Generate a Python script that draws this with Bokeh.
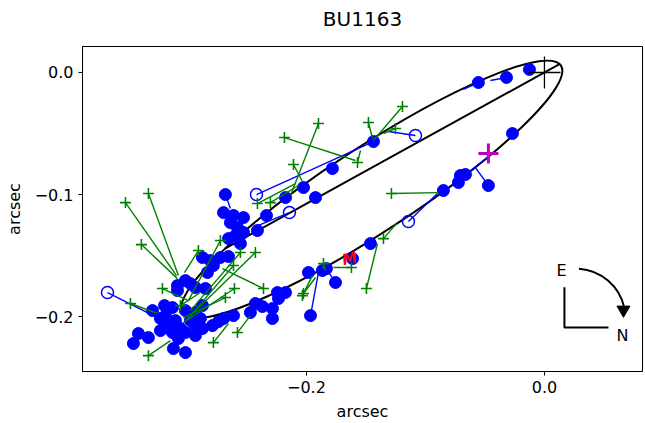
import numpy as np
from bokeh.plotting import figure
from bokeh.models import Range1d, FixedTicker, LinearAxis
from bokeh.embed import file_html
from bokeh.resources import INLINE
from bokeh.core.properties import value

FONT = "DejaVu Sans"

# ---- speckle measures: observed position and position predicted by the orbit ----
speckle_x = [-0.0126, -0.0319, -0.0555, -0.0269, -0.0706, -0.0664, -0.0723, -0.0471, -0.0849,
             -0.1437, -0.1782, -0.2025, -0.1924, -0.1462, -0.1983, -0.1866, -0.1832, -0.1756,
             -0.1966, -0.1613, -0.2176, -0.2336, -0.2681, -0.2697, -0.2613, -0.2529, -0.2639,
             -0.2580, -0.2597, -0.2529, -0.2412, -0.2555, -0.2655, -0.2874, -0.2807, -0.2723,
             -0.2655, -0.2782, -0.2832, -0.3017, -0.3084, -0.3084, -0.2975, -0.2933, -0.2849,
             -0.2874, -0.3126, -0.3193, -0.3294, -0.3185, -0.3101, -0.3227, -0.3412, -0.3328,
             -0.3454, -0.3118, -0.3017, -0.3126, -0.3017, -0.2933, -0.2874, -0.2790, -0.2697,
             -0.2613, -0.2739, -0.2471, -0.2429, -0.2286, -0.2286, -0.2244, -0.2176, -0.2235,
             -0.2975, -0.3059, -0.2933, -0.3160, -0.3017, -0.2933, -0.3076, -0.2891, -0.3227,
             -0.2370]
speckle_y = [0.0025, -0.0041, -0.0082, -0.0500, -0.0844, -0.0836, -0.0902, -0.0926, -0.0967,
             -0.0566, -0.0787, -0.0943, -0.1025, -0.1402, -0.1639, -0.1623, -0.1607, -0.1721,
             -0.1992, -0.1525, -0.1025, -0.1172, -0.1000, -0.1148, -0.1172, -0.1189, -0.1230,
             -0.1270, -0.1336, -0.1311, -0.1295, -0.1402, -0.1361, -0.1516, -0.1541, -0.1516,
             -0.1508, -0.1582, -0.1639, -0.1705, -0.1746, -0.1787, -0.1730, -0.1762, -0.1770,
             -0.1910, -0.1926, -0.1910, -0.1951, -0.1992, -0.2033, -0.2016, -0.2139, -0.2172,
             -0.2221, -0.2262, -0.2295, -0.2131, -0.2131, -0.2156, -0.2098, -0.2074, -0.2016,
             -0.1992, -0.2041, -0.1967, -0.1893, -0.1934, -0.2016, -0.1803, -0.1803, -0.1852,
             -0.2033, -0.2098, -0.2074, -0.2057, -0.1951, -0.1967, -0.2180, -0.2016, -0.2115,
             -0.1918]
speckle_xc = list(speckle_x)
speckle_yc = list(speckle_y)
# residual vectors that are long enough to show
for i, (xc, yc) in {1: (-0.0454, -0.0066), 2: (-0.0681, -0.0139), 5: (-0.0479, -0.0697),
                    7: (-0.0580, -0.0779), 17: (-0.1824, -0.1623), 18: (-0.1899, -0.1639),
                    22: (-0.2639, -0.1115)}.items():
    speckle_xc[i] = xc
    speckle_yc[i] = yc

# ---- rejected / low-weight speckle measures (open circles) ----
open_x = [-0.1143, -0.1084, -0.2420, -0.2143, -0.3672]
open_y = [-0.1221, -0.0516, -0.1000, -0.1148, -0.1803]
open_xc = [-0.0899, -0.1311, -0.1437, -0.2445, -0.3168]
open_yc = [-0.0992, -0.0484, -0.0566, -0.1270, -0.2049]

# ---- visual micrometer measures ----
vis_x = [-0.1286, -0.1193, -0.1479, -0.1252, -0.1899, -0.2185, -0.1571, -0.2109, -0.1496,
         -0.1353, -0.1622, -0.1857, -0.2025, -0.3521, -0.3328, -0.3387, -0.2908, -0.3210,
         -0.3479, -0.3328, -0.2361, -0.2605, -0.2681, -0.2580, -0.2782, -0.2034, -0.2723,
         -0.2555, -0.2429, -0.2613, -0.2412, -0.2303, -0.3059]
vis_y = [-0.0992, -0.0279, -0.0410, -0.0459, -0.0418, -0.0533, -0.0738, -0.0754, -0.1770,
         -0.1361, -0.1598, -0.1566, -0.1811, -0.1066, -0.0992, -0.1410, -0.1459, -0.1770,
         -0.1893, -0.2320, -0.1770, -0.1770, -0.1844, -0.2131, -0.2213, -0.1828, -0.1377,
         -0.1475, -0.1475, -0.1582, -0.1074, -0.1066, -0.1910]
vis_xc = [-0.0891, -0.1437, -0.1445, -0.1353, -0.2134, -0.1588, -0.1546, -0.2034, -0.1403,
          -0.1244, -0.1773, -0.1840, -0.1924, -0.3092, -0.3076, -0.3084, -0.3025, -0.2992,
          -0.3252, -0.3143, -0.2706, -0.3034, -0.3034, -0.2471, -0.2655, -0.1950, -0.2992,
          -0.2975, -0.3017, -0.2975, -0.2092, -0.2067, -0.2891]
vis_yc = [-0.0984, -0.0557, -0.0541, -0.0500, -0.1008, -0.0721, -0.0639, -0.0893, -0.1402,
          -0.1238, -0.1598, -0.1623, -0.1680, -0.1664, -0.1664, -0.1689, -0.1639, -0.1869,
          -0.1975, -0.2197, -0.1607, -0.2049, -0.2008, -0.1992, -0.2057, -0.1664, -0.1869,
          -0.1951, -0.2033, -0.1992, -0.0910, -0.0926, -0.1803]

# ---- apparent orbit ----
orbit_center = (-0.1451, -0.0958)
orbit_major = 0.380
orbit_minor = 0.0695
orbit_angle_deg = 33.2
node_x = [0.0134, -0.2685]
node_y = [0.0072, -0.1443]

periastron = (-0.0471, -0.0664)
flag_point = (-0.1639, -0.1525)

p = figure(width=645, height=423, output_backend="svg", toolbar_location=None,
           x_range=Range1d(-0.3882, 0.0824), y_range=Range1d(-0.245, 0.0213),
           min_border_left=82, min_border_right=3, min_border_top=46, min_border_bottom=52)
p.background_fill_color = "white"
p.border_fill_color = "white"
p.outline_line_color = "black"
p.outline_line_width = 1
p.xgrid.visible = False
p.ygrid.visible = False

x_axis = p.below[0]
y_axis = p.left[0]
x_axis.ticker = FixedTicker(ticks=[-0.2, 0.0])
y_axis.ticker = FixedTicker(ticks=[-0.2, -0.1, 0.0])
x_axis.major_label_overrides = {-0.2: "\u22120.2", 0: "0.0"}
y_axis.major_label_overrides = {-0.2: "\u22120.2", -0.1: "\u22120.1", 0: "0.0"}
for ax in (x_axis, y_axis):
    ax.axis_label = "arcsec"
    ax.axis_label_text_font = FONT
    ax.axis_label_text_font_size = "16px"
    ax.axis_label_text_font_style = "normal"
    ax.axis_label_text_color = "black"
    ax.major_label_text_font = FONT
    ax.major_label_text_font_size = "16px"
    ax.major_label_text_color = "black"
    ax.major_tick_in = 0
    ax.major_tick_out = 4
    ax.minor_tick_line_color = None
    ax.axis_line_color = "black"
    ax.major_tick_line_color = "black"
x_axis.axis_label_standoff = 6
y_axis.axis_label_standoff = 8

# title carried by a bare axis above the frame
title_axis = LinearAxis(ticker=FixedTicker(ticks=[]), axis_label="BU1163",
                        axis_label_text_font=FONT, axis_label_text_font_size="20px",
                        axis_label_text_font_style="normal", axis_label_text_color="black",
                        axis_label_standoff=16, major_tick_out=0, major_tick_in=0,
                        major_label_standoff=0, axis_line_color=None,
                        major_tick_line_color=None, minor_tick_line_color=None)
p.add_layout(title_axis, "above")

# orbit ellipse and line of nodes
p.ellipse(x=[orbit_center[0]], y=[orbit_center[1]], width=[orbit_major], height=[orbit_minor],
          angle=[np.deg2rad(orbit_angle_deg)], fill_color=None, line_color="black", line_width=2)
p.line(node_x, node_y, line_color="black", line_width=2)

# speckle residuals and points
p.segment(speckle_x, speckle_y, speckle_xc, speckle_yc, line_color="blue", line_width=1.4)
p.segment(open_x, open_y, open_xc, open_yc, line_color="blue", line_width=1.4)
p.scatter(speckle_x, speckle_y, size=12, marker="circle", fill_color="blue", line_color="blue")
p.scatter(open_x, open_y, size=12, marker="circle", fill_color=None, line_color="blue",
          line_width=1.5)

# visual residuals and points
p.segment(vis_x, vis_y, vis_xc, vis_yc, line_color="green", line_width=1.4)
p.scatter(vis_x, vis_y, size=11, marker="cross", line_color="green", line_width=1.6)

# primary, periastron and flagged measure
p.scatter([0.0], [0.0], size=32, marker="cross", line_color="black", line_width=1.3)
p.scatter([periastron[0]], [periastron[1]], size=20, marker="cross", line_color="#bf00bf",
          line_width=3)
p.text([flag_point[0]], [flag_point[1]], text=["M"], text_color="red",
       text_font=value(FONT), text_font_size="15px", text_font_style="bold italic",
       text_align="center", text_baseline="middle", angle=[0.25])

# orientation compass
p.line([0.0168, 0.0168, 0.0538], [-0.176, -0.209, -0.209], line_color="black", line_width=2)
p.arc(x=[0.0261], y=[-0.2016], radius=0.042, start_angle=np.deg2rad(13),
      end_angle=np.deg2rad(86), line_color="black", line_width=2)
p.scatter([0.0664], [-0.1945], size=13, marker="inverted_triangle", fill_color="black",
          line_color="black")
p.text([0.0143, 0.0655], [-0.1623, -0.2156], text=["E", "N"], text_color="black",
       text_font=value(FONT), text_font_size="16px", text_align="center",
       text_baseline="middle")

open("out.html", "w").write(file_html(p, INLINE))
